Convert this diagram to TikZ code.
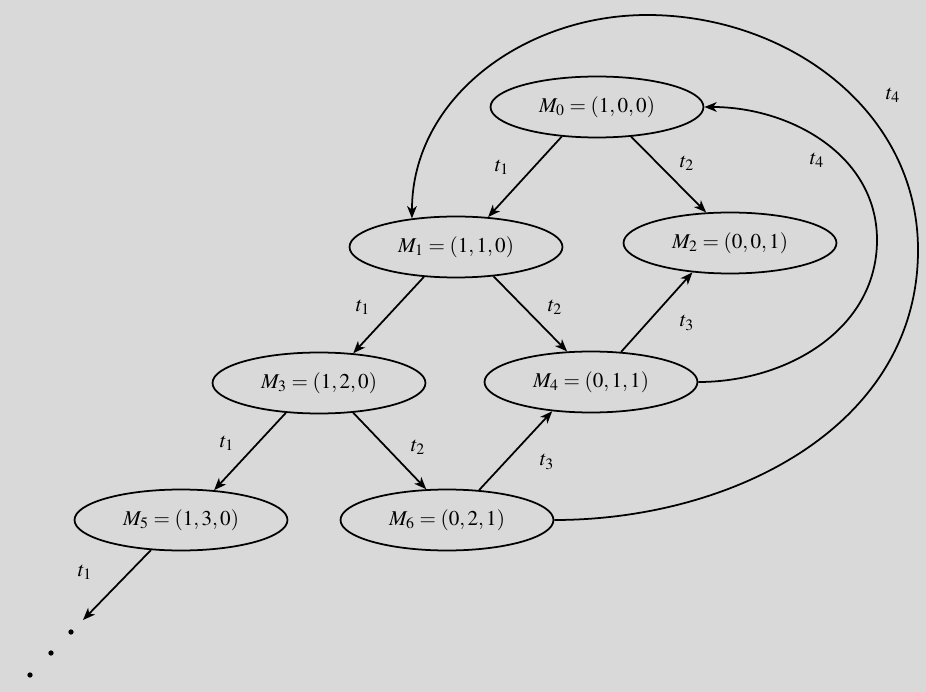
\documentclass[tikz,border=0pt]{standalone}
\usepackage{mathptmx}
\usetikzlibrary{shapes.geometric,arrows.meta}
\begin{document}
\begin{tikzpicture}[x=0.02cm,y=0.02cm,line width=1pt,>={Stealth[length=7pt,width=5.5pt,inset=2pt]},font=\large,
		state/.style={draw,ellipse,minimum width=4.26cm,minimum height=1.22cm,inner sep=0pt},
		lab/.style={font=\large}]
	\useasboundingbox[fill=black!15] (0,0) rectangle (926,-692);
	% markings
	\node[state] (M0) at (597,-107) {$M_0=(1,0,0)$};
	\node[state] (M1) at (456,-247) {$M_1=(1,1,0)$};
	\node[state] (M2) at (730,-243) {$M_2=(0,0,1)$};
	\node[state] (M3) at (319,-383) {$M_3=(1,2,0)$};
	\node[state] (M4) at (591,-382) {$M_4=(0,1,1)$};
	\node[state] (M5) at (181,-520) {$M_5=(1,3,0)$};
	\node[state] (M6) at (447,-520) {$M_6=(0,2,1)$};
	\coordinate (M5end) at (83,-620);
	% firings
	\draw[->] (M0.220)--(M1.43);
	\draw[->] (M0.-41)--(M2.128);
	\draw[->] (M1.223)--(M3.41);
	\draw[->] (M1.-38)--(M4.128);
	\draw[->] (M4.45)--(M2.218);
	\draw[->] (M3.222)--(M5.42);
	\draw[->] (M3.-41)--(M6.124);
	\draw[->] (M6.43)--(M4.217);
	\draw[->] (M5.225)--(M5end);
	\draw[->] (M4.east) to[out=0,in=-90] (877,-240) to[out=90,in=0] (M0.east);
	\draw[->] (M6.east) to[out=0,in=-90] (918,-250) to[out=90,in=0] (647,-15)
		to[out=180,in=90] (M1.147);
	\foreach \x/\y in {71/632,51/653,30/675}
		\fill (\x,-\y) circle (1.5pt);
	% labels
	\node[lab] (l01) at (502,-167) {$t_1$};
	\node[lab] (l02) at (687,-163) {$t_2$};
	\node[lab] (l13) at (363,-307) {$t_1$};
	\node[lab] (l14) at (555,-307) {$t_2$};
	\node[lab] (l42) at (687,-323) {$t_3$};
	\node[lab] (l35) at (227,-443) {$t_1$};
	\node[lab] (l36) at (418,-447) {$t_2$};
	\node[lab] (l64) at (547,-462) {$t_3$};
	\node[lab] (l5) at (85,-572) {$t_1$};
	\node[lab] (l40) at (817,-160) {$t_4$};
	\node[lab] (l61) at (893,-95) {$t_4$};
\end{tikzpicture}
\end{document}
